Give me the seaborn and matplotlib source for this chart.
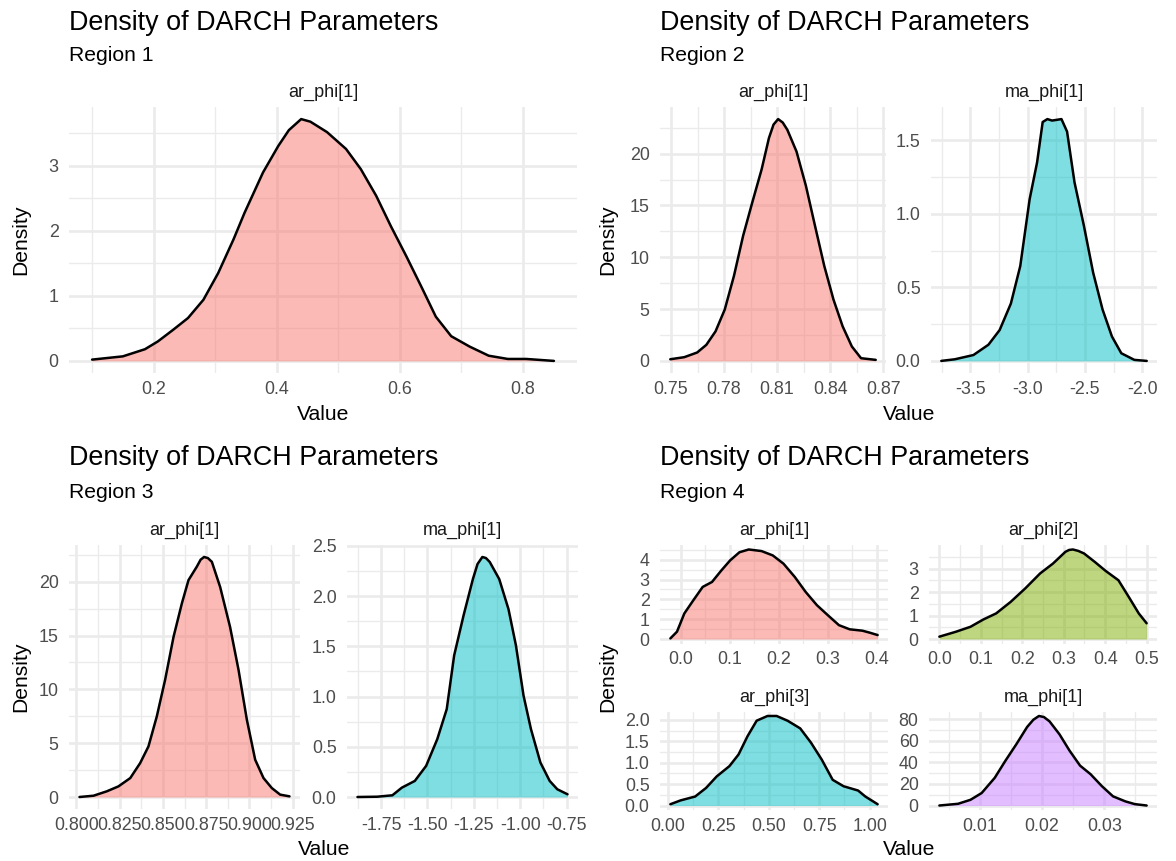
import numpy as np
import pandas as pd
import matplotlib
matplotlib.use("Agg")
import matplotlib.pyplot as plt
import seaborn as sns

# ---------------------------------------------------------------------------
# Posterior density curves (value grid, density) for each region / parameter
# ---------------------------------------------------------------------------
r1_ar1_x = [0.100, 0.150, 0.186, 0.207, 0.232, 0.256, 0.281, 0.305, 0.330, 0.348,
            0.378, 0.403, 0.420, 0.440, 0.455, 0.482, 0.513, 0.537, 0.562, 0.586,
            0.611, 0.635, 0.659, 0.684, 0.714, 0.745, 0.776, 0.806, 0.851]
r1_ar1_d = [0.02, 0.07, 0.18, 0.30, 0.48, 0.66, 0.94, 1.35, 1.87, 2.28,
            2.90, 3.31, 3.55, 3.72, 3.68, 3.52, 3.26, 2.95, 2.54, 2.07,
            1.61, 1.15, 0.68, 0.38, 0.22, 0.08, 0.03, 0.03, 0.00]

r2_ar1_x = [0.7496, 0.7575, 0.7648, 0.7700, 0.7752, 0.7804, 0.7856, 0.7908, 0.7960,
            0.8013, 0.8054, 0.8080, 0.8106, 0.8132, 0.8158, 0.8210, 0.8263, 0.8315,
            0.8367, 0.8419, 0.8471, 0.8523, 0.8575, 0.8658]
r2_ar1_d = [0.16, 0.36, 0.81, 1.55, 2.85, 4.95, 8.19, 12.07, 15.3,
            18.5, 21.5, 22.8, 23.33, 23.0, 22.3, 20.2, 16.9, 13.0,
            9.16, 5.92, 3.33, 1.39, 0.26, 0.10]

r2_ma1_x = [-3.755, -3.637, -3.474, -3.343, -3.245, -3.147, -3.065, -2.983, -2.918,
            -2.869, -2.828, -2.787, -2.745, -2.705, -2.656, -2.591, -2.509, -2.428,
            -2.346, -2.264, -2.182, -2.068, -1.960]
r2_ma1_d = [0.000, 0.011, 0.040, 0.110, 0.210, 0.390, 0.645, 1.100, 1.350,
            1.625, 1.645, 1.635, 1.640, 1.645, 1.560, 1.215, 0.920, 0.600,
            0.350, 0.166, 0.052, 0.007, 0.000]

r3_ar1_x = [0.8019, 0.8100, 0.8177, 0.8244, 0.8312, 0.8369, 0.8417, 0.8465, 0.8513,
            0.8562, 0.8610, 0.8648, 0.8696, 0.8718, 0.8738, 0.8760, 0.8783, 0.8831,
            0.8888, 0.8937, 0.8985, 0.9033, 0.9081, 0.9129, 0.9177, 0.9231]
r3_ar1_d = [0.00, 0.12, 0.53, 0.99, 1.76, 3.15, 4.70, 7.48, 10.88,
            14.9, 18.0, 20.15, 21.4, 22.05, 22.3, 22.2, 21.85, 19.5,
            15.8, 11.8, 7.17, 3.46, 1.76, 0.83, 0.22, 0.06]

r3_ma1_x = [-1.877, -1.770, -1.689, -1.638, -1.568, -1.507, -1.447, -1.396, -1.356,
            -1.305, -1.255, -1.230, -1.204, -1.185, -1.164, -1.113, -1.063, -1.023,
            -0.982, -0.942, -0.891, -0.841, -0.800, -0.745]
r3_ma1_d = [0.000, 0.003, 0.017, 0.093, 0.160, 0.310, 0.576, 0.875, 1.410,
            1.810, 2.170, 2.320, 2.390, 2.380, 2.340, 2.170, 1.870, 1.510,
            1.010, 0.676, 0.343, 0.160, 0.077, 0.027]

r4_ar1_x = [-0.021, -0.0075, 0.0075, 0.026, 0.045, 0.064, 0.083, 0.101, 0.120, 0.139,
            0.165, 0.188, 0.210, 0.233, 0.255, 0.278, 0.300, 0.323, 0.345, 0.371,
            0.386, 0.402]
r4_ar1_d = [0.03, 0.37, 1.29, 1.96, 2.63, 2.88, 3.46, 3.97, 4.38, 4.52,
            4.44, 4.22, 3.80, 3.13, 2.38, 1.71, 1.21, 0.70, 0.49, 0.42,
            0.32, 0.20]

r4_ar2_x = [0.000, 0.040, 0.075, 0.106, 0.137, 0.172, 0.207, 0.243, 0.274, 0.304,
            0.313, 0.322, 0.335, 0.349, 0.375, 0.401, 0.432, 0.459, 0.481, 0.500]
r4_ar2_d = [0.10, 0.31, 0.52, 0.83, 1.09, 1.58, 2.15, 2.79, 3.21, 3.71,
            3.79, 3.81, 3.75, 3.64, 3.28, 2.90, 2.50, 1.73, 1.09, 0.67]

r4_ar3_x = [0.012, 0.063, 0.135, 0.189, 0.242, 0.305, 0.350, 0.395, 0.440, 0.494,
            0.539, 0.593, 0.656, 0.709, 0.763, 0.817, 0.871, 0.943, 0.979, 1.040]
r4_ar3_d = [0.03, 0.12, 0.21, 0.41, 0.68, 0.92, 1.19, 1.62, 1.98, 2.09,
            2.09, 1.98, 1.80, 1.47, 1.07, 0.60, 0.45, 0.35, 0.21, 0.03]

r4_ma1_x = [0.0035, 0.0065, 0.0085, 0.0103, 0.0124, 0.0141, 0.0159, 0.0176, 0.0186,
            0.0195, 0.0203, 0.0212, 0.0228, 0.0244, 0.0261, 0.0278, 0.0296, 0.0314,
            0.0334, 0.0349, 0.0368]
r4_ma1_d = [0.0, 1.6, 5.3, 11.6, 25.7, 41.4, 57.1, 72.8, 79.5,
            83.0, 82.0, 78.0, 66.0, 51.0, 37.0, 29.0, 18.0, 8.5,
            3.8, 1.3, 0.0]

# Tick breaks for each facet
r1_ar1_xt = [0.2, 0.4, 0.6, 0.8];            r1_ar1_yt = [0, 1, 2, 3]
r2_ar1_xt = [0.75, 0.78, 0.81, 0.84, 0.87];  r2_ar1_yt = [0, 5, 10, 15, 20]
r2_ma1_xt = [-3.5, -3.0, -2.5, -2.0];        r2_ma1_yt = [0.0, 0.5, 1.0, 1.5]
r3_ar1_xt = [0.800, 0.825, 0.850, 0.875, 0.900, 0.925]; r3_ar1_yt = [0, 5, 10, 15, 20]
r3_ma1_xt = [-1.75, -1.50, -1.25, -1.00, -0.75];        r3_ma1_yt = [0.0, 0.5, 1.0, 1.5, 2.0, 2.5]
r4_ar1_xt = [0.0, 0.1, 0.2, 0.3, 0.4];       r4_ar1_yt = [0, 1, 2, 3, 4]
r4_ar2_xt = [0.0, 0.1, 0.2, 0.3, 0.4, 0.5];  r4_ar2_yt = [0, 1, 2, 3]
r4_ar3_xt = [0.00, 0.25, 0.50, 0.75, 1.00];  r4_ar3_yt = [0.0, 0.5, 1.0, 1.5, 2.0]
r4_ma1_xt = [0.01, 0.02, 0.03];              r4_ma1_yt = [0, 20, 40, 60, 80]

region_titles = ["Region 1", "Region 2", "Region 3", "Region 4"]
main_title = "Density of DARCH Parameters"

# ggplot-style hue palette
RED, GREEN, CYAN, PURPLE = "#F8766D", "#7CAE00", "#00BFC4", "#C77CFF"

sns.set_theme(style="white")
plt.rcParams["font.family"] = ["Liberation Sans", "DejaVu Sans"]
plt.rcParams["axes.unicode_minus"] = False

W, H = 1176, 861
fig = plt.figure(figsize=(W / 100, H / 100), dpi=100)
fig.patch.set_facecolor("white")

GRID = "#EBEBEB"
TICK_COL = "#4D4D4D"
TICK_SIZE = 12.9


def px_axes(x0, y0, x1, y1):
    return fig.add_axes([x0 / W, 1 - y1 / H, (x1 - x0) / W, (y1 - y0) / H])


def fmt(v, dec):
    return f"{v:.{dec}f}"


def minor_of(ticks, lo, hi):
    step = ticks[1] - ticks[0]
    cand = [t - step / 2 for t in ticks] + [ticks[-1] + step / 2]
    return [c for c in cand if lo <= c <= hi]


def facet(box, name, xs, ds, color, xt, yt, xdec, ydec):
    ax = px_axes(*box)
    df = pd.DataFrame({"Value": xs, "Density": ds})
    xmin, xmax = min(xs), max(xs)
    r = xmax - xmin
    dmax = max(ds)
    xlo, xhi = xmin - 0.05 * r, xmax + 0.05 * r
    ylo, yhi = -0.05 * dmax, 1.05 * dmax
    ax.fill_between(df["Value"], 0, df["Density"], color=color, alpha=0.5,
                    linewidth=0, zorder=2)
    sns.lineplot(data=df, x="Value", y="Density", ax=ax, color="black",
                 linewidth=1.8, sort=False, estimator=None, zorder=3,
                 solid_joinstyle="round", solid_capstyle="round")
    ax.set_xlim(xlo, xhi)
    ax.set_ylim(ylo, yhi)
    ax.set_xticks(xt, labels=[fmt(v, xdec) for v in xt])
    ax.set_yticks(yt, labels=[fmt(v, ydec) for v in yt])
    ax.set_xticks(minor_of(xt, xlo, xhi), minor=True)
    ax.set_yticks(minor_of(yt, ylo, yhi), minor=True)
    ax.grid(which="major", color=GRID, linewidth=1.9, zorder=0)
    ax.grid(which="minor", color=GRID, linewidth=0.95, zorder=0)
    ax.set_axisbelow(True)
    ax.tick_params(which="both", length=0)
    ax.tick_params(axis="x", which="major", pad=5.5, labelsize=TICK_SIZE, labelcolor=TICK_COL)
    ax.tick_params(axis="y", which="major", pad=7.5, labelsize=TICK_SIZE, labelcolor=TICK_COL)
    for s in ax.spines.values():
        s.set_visible(False)
    ax.set_xlabel("")
    ax.set_ylabel("")
    ax.set_title(name, fontsize=13.0, color="#1A1A1A", pad=7)
    return ax


def headers(x, y_title, y_sub, sub):
    fig.text(x / W, 1 - y_title / H, main_title, fontsize=19.4, color="black",
             ha="left", va="baseline")
    fig.text(x / W, 1 - y_sub / H, sub, fontsize=15.2, color="black",
             ha="left", va="baseline")


def axis_titles(xc, yb, xd, yd):
    fig.text(xc / W, 1 - yb / H, "Value", fontsize=15.2, color="black",
             ha="center", va="baseline")
    fig.text(xd / W, 1 - yd / H, "Density", fontsize=15.2, color="black",
             ha="center", va="center", rotation=90)


# Region 1
facet((69, 107, 577, 373), "ar_phi[1]", r1_ar1_x, r1_ar1_d, RED, r1_ar1_xt, r1_ar1_yt, 1, 0)
headers(69, 30, 61, region_titles[0])
axis_titles(323, 420, 21, 240)

# Region 2
facet((660, 107, 886, 373), "ar_phi[1]", r2_ar1_x, r2_ar1_d, RED, r2_ar1_xt, r2_ar1_yt, 2, 0)
facet((931, 107, 1157, 373), "ma_phi[1]", r2_ma1_x, r2_ma1_d, CYAN, r2_ma1_xt, r2_ma1_yt, 1, 1)
headers(660, 30, 61, region_titles[1])
axis_titles(909, 420, 608, 240)

# Region 3
facet((69, 545, 300, 809), "ar_phi[1]", r3_ar1_x, r3_ar1_d, RED, r3_ar1_xt, r3_ar1_yt, 3, 0)
facet((347, 545, 578, 809), "ma_phi[1]", r3_ma1_x, r3_ma1_d, CYAN, r3_ma1_xt, r3_ma1_yt, 2, 1)
headers(69, 465, 498, region_titles[2])
axis_titles(324, 855, 21, 677)

# Region 4
facet((660, 545, 888, 643.5), "ar_phi[1]", r4_ar1_x, r4_ar1_d, RED, r4_ar1_xt, r4_ar1_yt, 1, 0)
facet((929, 545, 1157, 643.5), "ar_phi[2]", r4_ar2_x, r4_ar2_d, GREEN, r4_ar2_xt, r4_ar2_yt, 1, 0)
facet((660, 711.5, 888, 810), "ar_phi[3]", r4_ar3_x, r4_ar3_d, CYAN, r4_ar3_xt, r4_ar3_yt, 2, 1)
facet((929, 711.5, 1157, 810), "ma_phi[1]", r4_ma1_x, r4_ma1_d, PURPLE, r4_ma1_xt, r4_ma1_yt, 2, 0)
headers(660, 465, 498, region_titles[3])
axis_titles(909, 855, 608, 677)

fig.savefig("out.png", dpi=100, facecolor="white")
